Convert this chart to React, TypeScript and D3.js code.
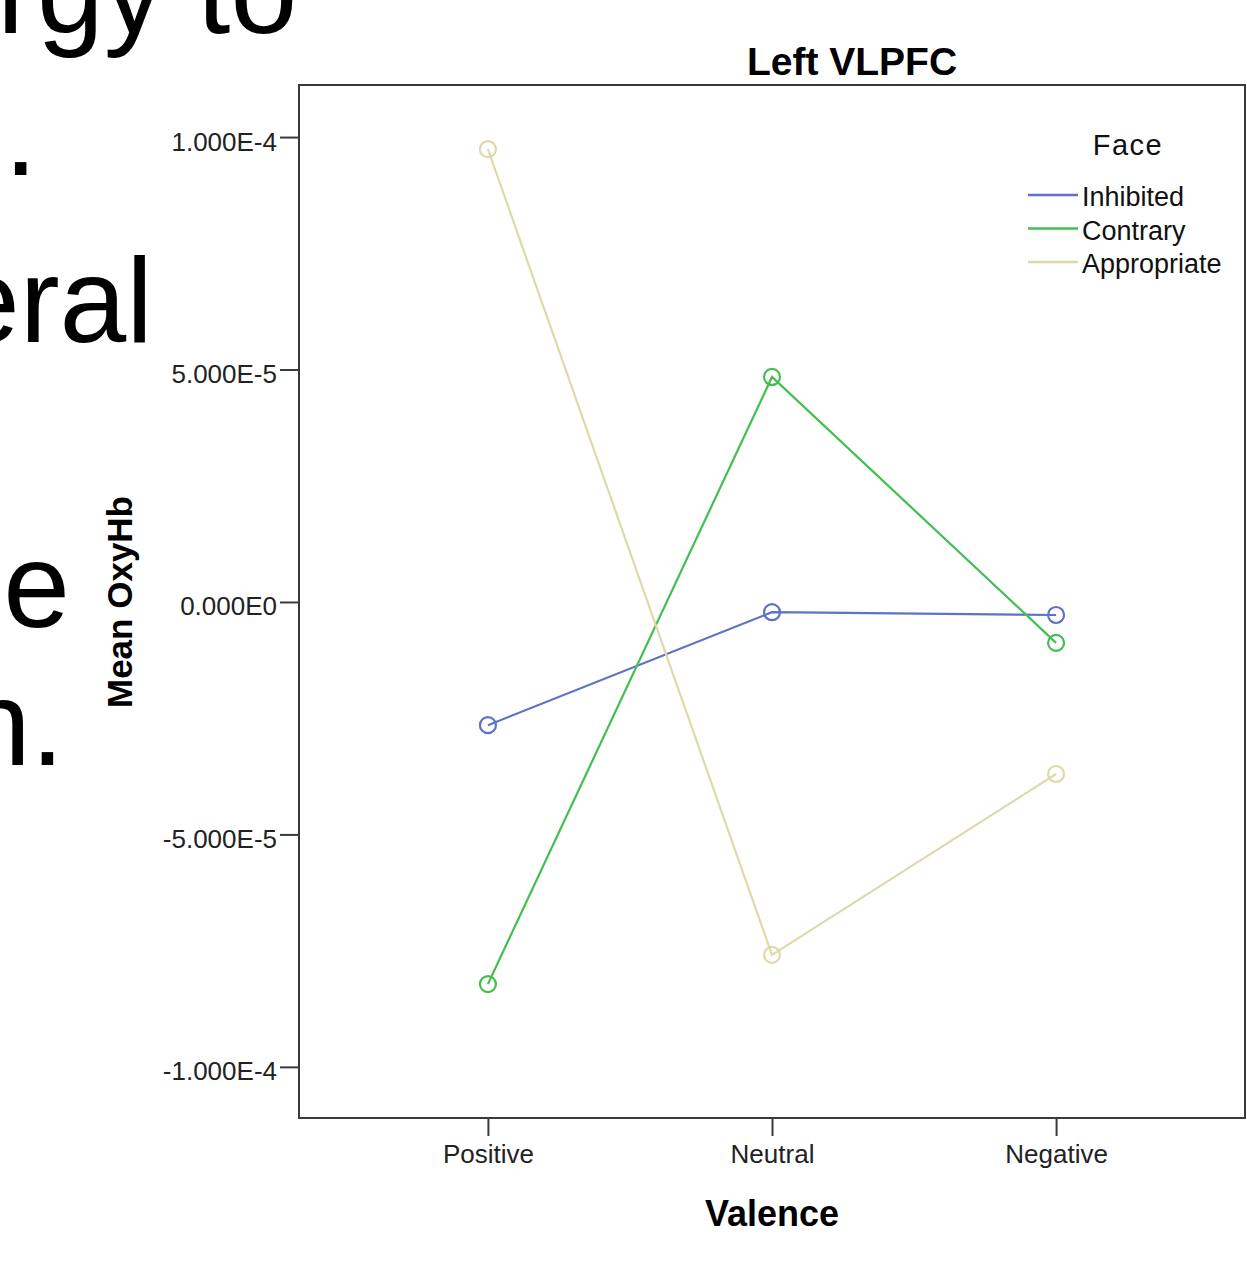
import { useEffect, useRef } from "react";
import * as d3 from "d3";

// data
const valences = ["Positive", "Neutral", "Negative"];
const faces = ["Inhibited", "Contrary", "Appropriate"];
const inhibited = [-2.65e-5, -2.2e-6, -2.8e-6];
const contrary = [-8.22e-5, 4.84e-5, -8.8e-6];
const appropriate = [9.74e-5, -7.59e-5, -3.7e-5];
const faceColors = ["#5e72c6", "#43bf50", "#ded9ad"];
const yTicks = [-1e-4, -5e-5, 0, 5e-5, 1e-4];

// bits of the slide text peeking out from behind the chart
const slideLines = [
    { text: "rgy to", x: -3, y: 33, anchor: "start" },
    { text: ".", x: 4, y: 175, anchor: "start" },
    { text: "eral", x: 153, y: 342, anchor: "end" },
    { text: "e", x: 70, y: 627, anchor: "end" },
    { text: "n.", x: 64, y: 765, anchor: "end" },
];

// SPSS style: 1.000E-4, 0.000E0, plain hyphen for minus
const sciFormat = (v: number) =>
    d3.format(".3e")(v).replace("\u2212", "-").replace("e+", "E").replace("e", "E");

export default function App() {
    const ref = useRef<SVGSVGElement>(null);

    useEffect(() => {
        const width = 1247;
        const height = 1276;
        const left = 299, right = 1245, top = 85, bottom = 1118;

        const svg = d3.select(ref.current)
            .attr("width", width)
            .attr("height", height)
            .style("font-family", "'Liberation Sans', Arial, sans-serif");

        svg.selectAll("*").remove();

        svg.append("rect").attr("width", width).attr("height", height).attr("fill", "#fff");

        svg.selectAll("text.slide")
            .data(slideLines)
            .join("text")
            .attr("class", "slide")
            .attr("x", d => d.x)
            .attr("y", d => d.y)
            .attr("text-anchor", d => d.anchor)
            .attr("font-size", 120)
            .attr("fill", "#000")
            .text(d => d.text);

        // Scales
        const x = d3.scalePoint<string>()
            .domain(valences)
            .range([left, right])
            .padding(0.665);

        const y = d3.scaleLinear()
            .domain([-1.11e-4, 1.112e-4])
            .range([bottom, top]);

        // Frame
        svg.append("rect")
            .attr("x", left)
            .attr("y", top)
            .attr("width", right - left)
            .attr("height", bottom - top)
            .attr("fill", "none")
            .attr("stroke", "#3a3a3a")
            .attr("stroke-width", 2);

        // Axes
        const yAxis = svg.append("g")
            .attr("transform", `translate(${left},0)`)
            .call(d3.axisLeft(y).tickValues(yTicks).tickFormat(d => sciFormat(+d)).tickSize(19).tickPadding(3));
        yAxis.select(".domain").remove();
        yAxis.selectAll("line").attr("stroke", "#3a3a3a").attr("stroke-width", 2);
        yAxis.selectAll("text")
            .attr("font-size", 26)
            .attr("font-family", "'Liberation Sans', Arial, sans-serif")
            .attr("fill", "#222")
            .attr("dy", "0.5em");

        const xAxis = svg.append("g")
            .attr("transform", `translate(0,${bottom})`)
            .call(d3.axisBottom(x).tickSize(18).tickPadding(9));
        xAxis.select(".domain").remove();
        xAxis.selectAll("line").attr("stroke", "#3a3a3a").attr("stroke-width", 2);
        xAxis.selectAll("text")
            .attr("font-size", 26)
            .attr("font-family", "'Liberation Sans', Arial, sans-serif")
            .attr("fill", "#222");

        // Titles
        svg.append("text")
            .attr("x", 852)
            .attr("y", 75)
            .attr("text-anchor", "middle")
            .attr("font-size", 39)
            .attr("font-weight", "bold")
            .text("Left VLPFC");

        svg.append("text")
            .attr("x", 772)
            .attr("y", 1226)
            .attr("text-anchor", "middle")
            .attr("font-size", 36)
            .attr("font-weight", "bold")
            .text("Valence");

        svg.append("text")
            .attr("transform", "translate(132,602) rotate(-90)")
            .attr("text-anchor", "middle")
            .attr("font-size", 35)
            .attr("font-weight", "bold")
            .text("Mean OxyHb");

        // Lines and markers
        const series = [inhibited, contrary, appropriate];
        const line = d3.line<number>()
            .x((_, i) => x(valences[i]) as number)
            .y(d => y(d));

        series.forEach((vals, si) => {
            const g = svg.append("g");
            g.append("path")
                .datum(vals)
                .attr("fill", "none")
                .attr("stroke", faceColors[si])
                .attr("stroke-width", 2.2)
                .attr("d", line);
            g.selectAll("circle")
                .data(vals)
                .join("circle")
                .attr("cx", (_, i) => x(valences[i]) as number)
                .attr("cy", d => y(d))
                .attr("r", 8)
                .attr("fill", "none")
                .attr("stroke", faceColors[si])
                .attr("stroke-width", 2.2);
        });

        // Legend
        svg.append("text")
            .attr("x", 1128)
            .attr("y", 155)
            .attr("text-anchor", "middle")
            .attr("font-size", 29)
            .attr("letter-spacing", 1.5)
            .attr("fill", "#111")
            .text("Face");

        const legend = svg.selectAll("g.legend")
            .data(faces)
            .join("g")
            .attr("class", "legend")
            .attr("transform", (_, i) => `translate(1028,${195 + i * 33.5})`);
        legend.append("line")
            .attr("x2", 50)
            .attr("stroke", (_, i) => faceColors[i])
            .attr("stroke-width", 2.5);
        legend.append("text")
            .attr("x", 54)
            .attr("y", 11)
            .attr("font-size", 27)
            .attr("fill", "#111")
            .text(d => d);
    }, []);

    return <svg ref={ref} style={{ position: "absolute", left: 0, top: 0 }}></svg>;
}
